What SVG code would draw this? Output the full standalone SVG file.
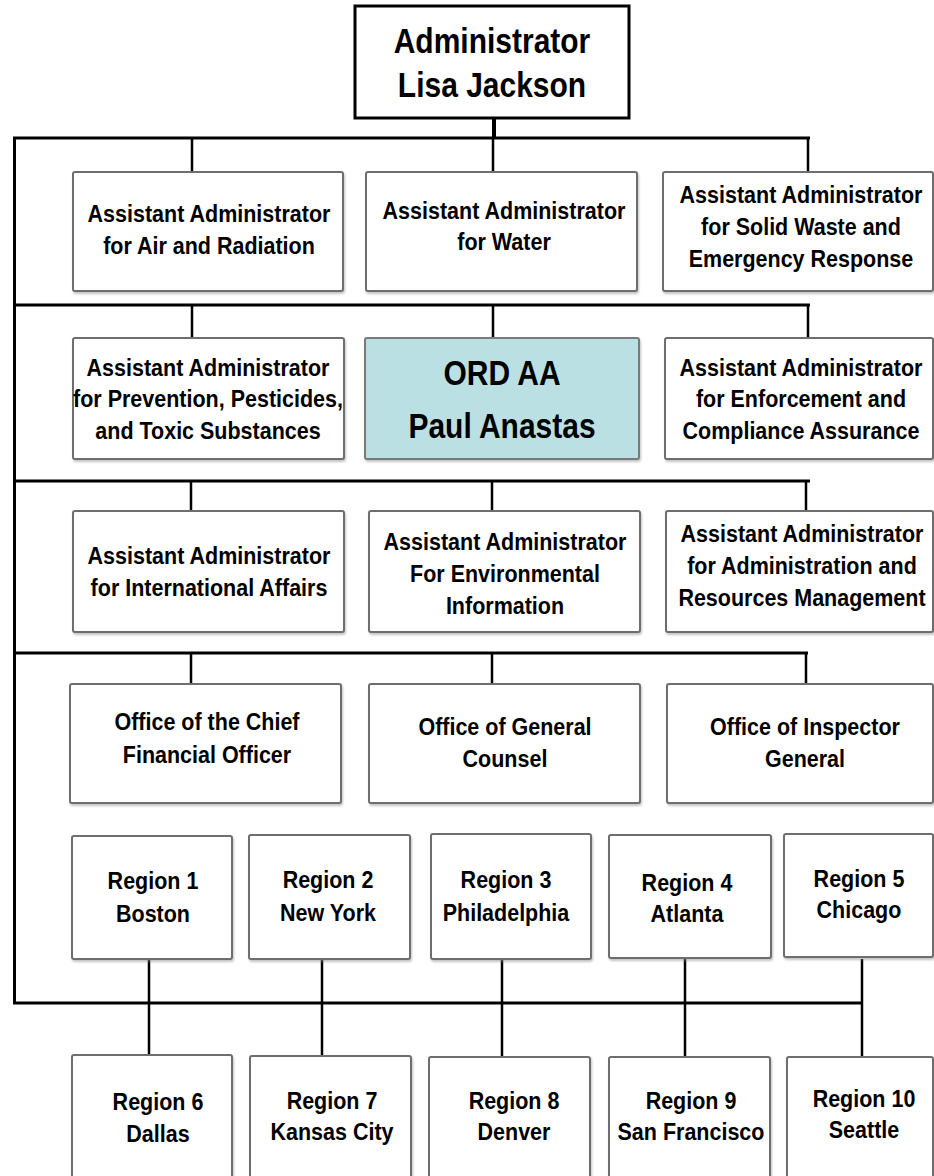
<svg xmlns="http://www.w3.org/2000/svg" width="934" height="1176" viewBox="0 0 934 1176">
<defs>
<filter id="sh" x="-5%" y="-5%" width="110%" height="115%">
<feDropShadow dx="1" dy="2" stdDeviation="1" flood-color="#888" flood-opacity="0.5"/>
</filter>
<style>
.box{fill:#ffffff;stroke:#6e6e6e;stroke-width:2;filter:url(#sh)}
.ord{fill:#bbe0e3;stroke:#7a7a7a;stroke-width:2;filter:url(#sh)}
.top{fill:#ffffff;stroke:#000;stroke-width:3}
.t{font-family:"Liberation Sans",Arial,sans-serif;font-weight:bold;font-size:21.5px;fill:#000;text-anchor:middle}
.big{font-family:"Liberation Sans",Arial,sans-serif;font-weight:bold;font-size:30px;fill:#000;text-anchor:middle}
.bus{stroke:#000;stroke-width:3;fill:none}
.drop{stroke:#000;stroke-width:2.5;fill:none}
</style>
</defs>
<rect width="934" height="1176" fill="#fff"/>
<g id="connectors">
<line x1="494" y1="118" x2="494" y2="138" stroke="#000" stroke-width="4"/>
<polyline class="bus" points="810,138 14.5,138 14.5,1003 862,1003"/>
<line class="bus" x1="14.5" y1="305" x2="810" y2="305"/>
<line class="bus" x1="14.5" y1="481" x2="810" y2="481"/>
<line class="bus" x1="14.5" y1="653" x2="808" y2="653"/>
<path class="drop" d="M192,138V172M493,138V172M808,138V172"/>
<path class="drop" d="M192,305V338M493,305V338M808,305V338"/>
<path class="drop" d="M191,481V511M492,481V511M806,481V511"/>
<path class="drop" d="M191,653V684M492,653V684M806,653V684"/>
<path class="drop" d="M149,959V1056M322,959V1056M502,959V1056M685,959V1056M862,959V1056"/>
</g>
<g id="admin">
<rect class="top" x="355" y="6" width="274" height="112"/>
<text class="big" x="492" y="53" transform="matrix(1 0 0 1.15 0 -7.95)">Administrator</text>
<text class="big" x="492" y="97" transform="matrix(1 0 0 1.15 0 -14.55)">Lisa Jackson</text>
</g>
<g id="aa-air">
<rect class="box" x="73" y="172" width="270" height="119" rx="2"/>
<text class="t" x="209" y="222" transform="matrix(1 0 0 1.15 0 -33.3)">Assistant Administrator</text>
<text class="t" x="209" y="254" transform="matrix(1 0 0 1.15 0 -38.1)">for Air and Radiation</text>
</g>
<g id="aa-water">
<rect class="box" x="366" y="172" width="271" height="119" rx="2"/>
<text class="t" x="504" y="219" transform="matrix(1 0 0 1.15 0 -32.85)">Assistant Administrator</text>
<text class="t" x="504" y="250" transform="matrix(1 0 0 1.15 0 -37.5)">for Water</text>
</g>
<g id="aa-solidwaste">
<rect class="box" x="663" y="172" width="270" height="119" rx="2"/>
<text class="t" x="801" y="203" transform="matrix(1 0 0 1.15 0 -30.45)">Assistant Administrator</text>
<text class="t" x="801" y="235" transform="matrix(1 0 0 1.15 0 -35.25)">for Solid Waste and</text>
<text class="t" x="801" y="267" transform="matrix(1 0 0 1.15 0 -40.05)">Emergency Response</text>
</g>
<g id="aa-pesticides">
<rect class="box" x="73" y="338" width="271" height="121" rx="2"/>
<text class="t" x="208" y="376" transform="matrix(1 0 0 1.15 0 -56.4)">Assistant Administrator</text>
<text class="t" x="208" y="407" transform="matrix(1 0 0 1.15 0 -61.05)">for Prevention, Pesticides,</text>
<text class="t" x="208" y="439" transform="matrix(1 0 0 1.15 0 -65.85)">and Toxic Substances</text>
</g>
<g id="ord-aa">
<rect class="ord" x="365" y="338" width="274" height="121" rx="2"/>
<text class="big" x="502" y="385" transform="matrix(1 0 0 1.15 0 -57.75)">ORD AA</text>
<text class="big" x="502" y="438" transform="matrix(1 0 0 1.15 0 -65.7)">Paul Anastas</text>
</g>
<g id="aa-enforcement">
<rect class="box" x="665" y="338" width="268" height="121" rx="2"/>
<text class="t" x="801" y="376" transform="matrix(1 0 0 1.15 0 -56.4)">Assistant Administrator</text>
<text class="t" x="801" y="407" transform="matrix(1 0 0 1.15 0 -61.05)">for Enforcement and</text>
<text class="t" x="801" y="439" transform="matrix(1 0 0 1.15 0 -65.85)">Compliance Assurance</text>
</g>
<g id="aa-international">
<rect class="box" x="73" y="511" width="271" height="121" rx="2"/>
<text class="t" x="209" y="564" transform="matrix(1 0 0 1.15 0 -84.6)">Assistant Administrator</text>
<text class="t" x="209" y="596" transform="matrix(1 0 0 1.15 0 -89.4)">for International Affairs</text>
</g>
<g id="aa-envinfo">
<rect class="box" x="369" y="511" width="271" height="121" rx="2"/>
<text class="t" x="505" y="550" transform="matrix(1 0 0 1.15 0 -82.5)">Assistant Administrator</text>
<text class="t" x="505" y="582" transform="matrix(1 0 0 1.15 0 -87.3)">For Environmental</text>
<text class="t" x="505" y="614" transform="matrix(1 0 0 1.15 0 -92.1)">Information</text>
</g>
<g id="aa-adminres">
<rect class="box" x="666" y="511" width="267" height="121" rx="2"/>
<text class="t" x="802" y="542" transform="matrix(1 0 0 1.15 0 -81.3)">Assistant Administrator</text>
<text class="t" x="802" y="574" transform="matrix(1 0 0 1.15 0 -86.1)">for Administration and</text>
<text class="t" x="802" y="606" transform="matrix(1 0 0 1.15 0 -90.9)">Resources Management</text>
</g>
<g id="ocfo">
<rect class="box" x="70" y="684" width="271" height="119" rx="2"/>
<text class="t" x="207" y="730" transform="matrix(1 0 0 1.15 0 -109.5)">Office of the Chief</text>
<text class="t" x="207" y="763" transform="matrix(1 0 0 1.15 0 -114.45)">Financial Officer</text>
</g>
<g id="ogc">
<rect class="box" x="369" y="684" width="271" height="119" rx="2"/>
<text class="t" x="505" y="735" transform="matrix(1 0 0 1.15 0 -110.25)">Office of General</text>
<text class="t" x="505" y="767" transform="matrix(1 0 0 1.15 0 -115.05)">Counsel</text>
</g>
<g id="oig">
<rect class="box" x="667" y="684" width="266" height="119" rx="2"/>
<text class="t" x="805" y="735" transform="matrix(1 0 0 1.15 0 -110.25)">Office of Inspector</text>
<text class="t" x="805" y="767" transform="matrix(1 0 0 1.15 0 -115.05)">General</text>
</g>
<g id="region1">
<rect class="box" x="72" y="836" width="160" height="123" rx="2"/>
<text class="t" x="153" y="889" transform="matrix(1 0 0 1.15 0 -133.35)">Region 1</text>
<text class="t" x="153" y="922" transform="matrix(1 0 0 1.15 0 -138.3)">Boston</text>
</g>
<g id="region2">
<rect class="box" x="249" y="835" width="161" height="124" rx="2"/>
<text class="t" x="328" y="888" transform="matrix(1 0 0 1.15 0 -133.2)">Region 2</text>
<text class="t" x="328" y="921" transform="matrix(1 0 0 1.15 0 -138.15)">New York</text>
</g>
<g id="region3">
<rect class="box" x="431" y="834" width="160" height="125" rx="2"/>
<text class="t" x="506" y="888" transform="matrix(1 0 0 1.15 0 -133.2)">Region 3</text>
<text class="t" x="506" y="921" transform="matrix(1 0 0 1.15 0 -138.15)">Philadelphia</text>
</g>
<g id="region4">
<rect class="box" x="609" y="835" width="162" height="123" rx="2"/>
<text class="t" x="687" y="891" transform="matrix(1 0 0 1.15 0 -133.65)">Region 4</text>
<text class="t" x="687" y="922" transform="matrix(1 0 0 1.15 0 -138.3)">Atlanta</text>
</g>
<g id="region5">
<rect class="box" x="784" y="834" width="149" height="123" rx="2"/>
<text class="t" x="859" y="887" transform="matrix(1 0 0 1.15 0 -133.05)">Region 5</text>
<text class="t" x="859" y="918" transform="matrix(1 0 0 1.15 0 -137.7)">Chicago</text>
</g>
<g id="region6">
<rect class="box" x="72" y="1055" width="160" height="130" rx="2"/>
<text class="t" x="158" y="1110" transform="matrix(1 0 0 1.15 0 -166.5)">Region 6</text>
<text class="t" x="158" y="1142" transform="matrix(1 0 0 1.15 0 -171.3)">Dallas</text>
</g>
<g id="region7">
<rect class="box" x="250" y="1056" width="161" height="130" rx="2"/>
<text class="t" x="332" y="1109" transform="matrix(1 0 0 1.15 0 -166.35)">Region 7</text>
<text class="t" x="332" y="1140" transform="matrix(1 0 0 1.15 0 -171)">Kansas City</text>
</g>
<g id="region8">
<rect class="box" x="429" y="1057" width="161" height="130" rx="2"/>
<text class="t" x="514" y="1109" transform="matrix(1 0 0 1.15 0 -166.35)">Region 8</text>
<text class="t" x="514" y="1140" transform="matrix(1 0 0 1.15 0 -171)">Denver</text>
</g>
<g id="region9">
<rect class="box" x="609" y="1057" width="161" height="130" rx="2"/>
<text class="t" x="691" y="1109" transform="matrix(1 0 0 1.15 0 -166.35)">Region 9</text>
<text class="t" x="691" y="1140" transform="matrix(1 0 0 1.15 0 -171)">San Francisco</text>
</g>
<g id="region10">
<rect class="box" x="787" y="1057" width="146" height="130" rx="2"/>
<text class="t" x="864" y="1107" transform="matrix(1 0 0 1.15 0 -166.05)">Region 10</text>
<text class="t" x="864" y="1138" transform="matrix(1 0 0 1.15 0 -170.7)">Seattle</text>
</g>
</svg>
